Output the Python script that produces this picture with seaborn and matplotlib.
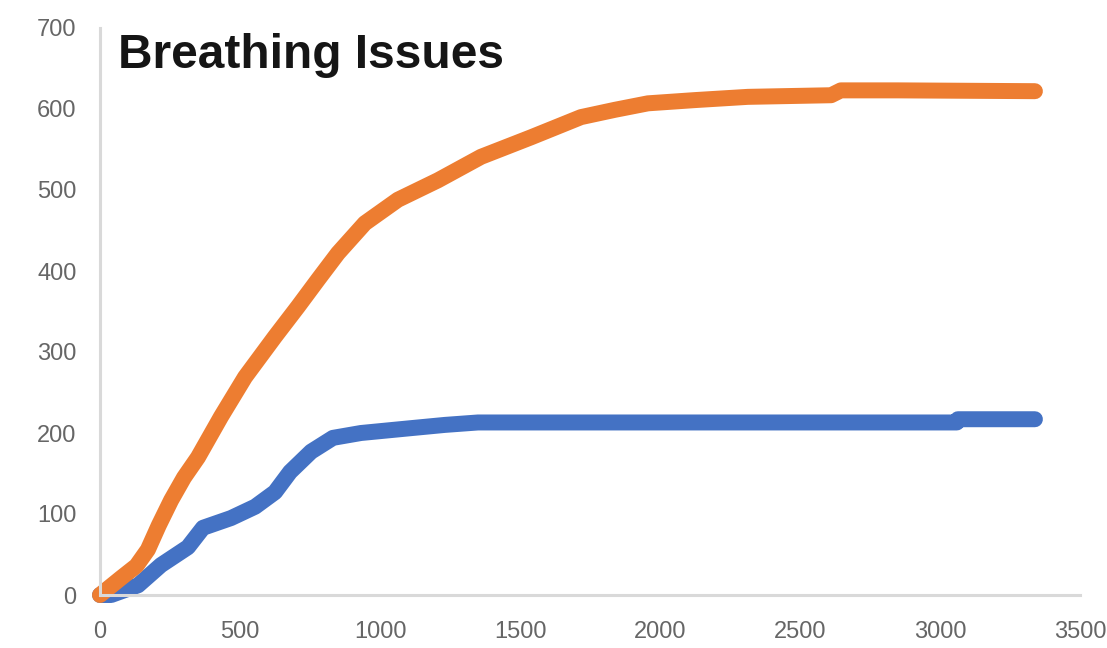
import pandas as pd
import seaborn as sns
import matplotlib.pyplot as plt

# Số liệu
orange_x = [0, 75, 130, 171, 210, 254, 300, 350, 432, 518, 625, 707, 780, 850, 946,
            1064, 1207, 1361, 1539, 1718, 1839, 1957, 2125, 2314, 2611, 2646, 2850, 3339]
orange_y = [0, 21, 36, 56, 86, 117, 145, 170, 220, 269, 319, 356, 390, 422, 459,
            488, 512, 541, 565, 590, 599, 607, 611, 615, 617, 623, 623, 622]

blue_x = [0, 40, 136, 218, 314, 368, 468, 554, 625, 679, 754, 832, 932, 1111,
          1232, 1350, 3060, 3064, 3339]
blue_y = [0, 0, 12, 37, 59, 83, 95, 109, 127, 152, 177, 194, 200, 206,
          210, 213, 213, 217, 217]

title = "Breathing Issues"
x_ticks = [0, 500, 1000, 1500, 2000, 2500, 3000, 3500]
y_ticks = [0, 100, 200, 300, 400, 500, 600, 700]

sns.set_style("white")
plt.rcParams["font.family"] = ["Liberation Sans", "DejaVu Sans"]

fig = plt.figure(figsize=(11.07, 6.48), dpi=100)
ax = fig.add_axes([100 / 1107, 1 - 595 / 648, 980 / 1107, 567 / 648])

df_blue = pd.DataFrame({"x": blue_x, "y": blue_y})
df_orange = pd.DataFrame({"x": orange_x, "y": orange_y})

sns.lineplot(data=df_blue, x="x", y="y", color="#4472C4", linewidth=11.5,
             solid_capstyle="round", solid_joinstyle="round", ax=ax)
sns.lineplot(data=df_orange, x="x", y="y", color="#ED7D31", linewidth=11.5,
             solid_capstyle="round", solid_joinstyle="round", ax=ax)

ax.set_xlim(0, 3500)
ax.set_ylim(0, 700)
ax.set_xticks(x_ticks)
ax.set_yticks(y_ticks)
ax.set_xlabel("")
ax.set_ylabel("")
for lines in ax.get_lines():
    lines.set_clip_on(False)

for side in ["top", "right"]:
    ax.spines[side].set_visible(False)
for side in ["left", "bottom"]:
    ax.spines[side].set_color("#d9d9d9")
    ax.spines[side].set_linewidth(2.2)

ax.tick_params(axis="x", length=0, pad=19, labelsize=17, labelcolor="#666666")
ax.tick_params(axis="y", length=0, pad=17, labelsize=17, labelcolor="#666666")

fig.text(118 / 1107, 1 - 68 / 648, title, fontsize=34.5, fontweight="bold",
         color="#151515", ha="left", va="baseline")

fig.savefig("out.png", dpi=100)
